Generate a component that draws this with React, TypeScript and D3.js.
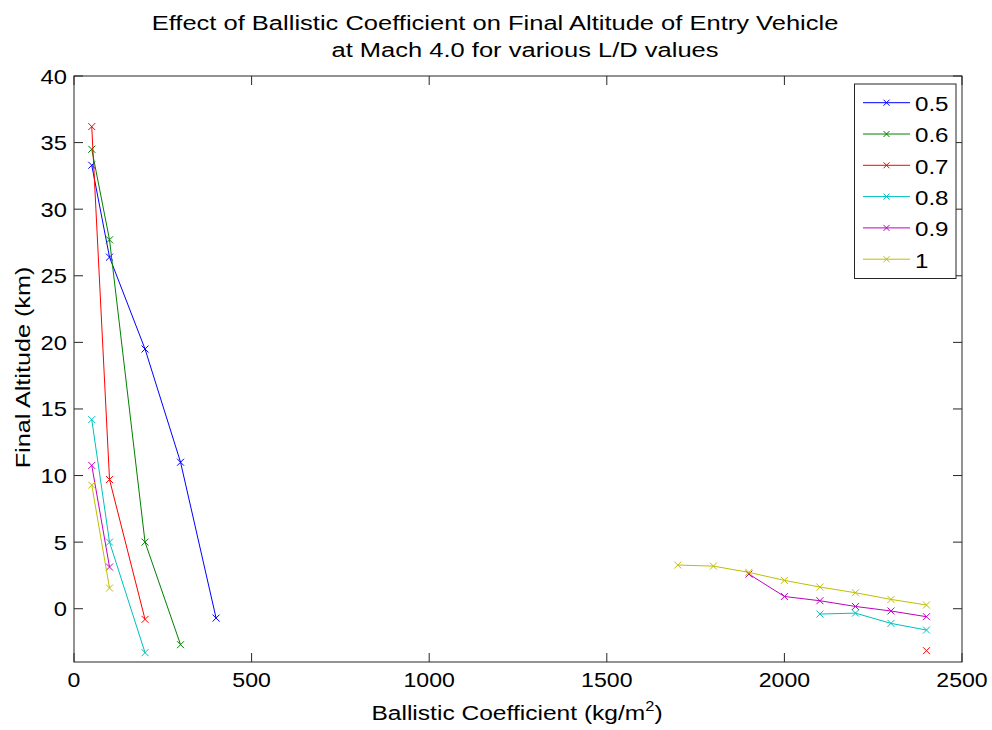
import React from "react";
import * as d3 from "d3";

const seriesNames = ["0.5", "0.6", "0.7", "0.8", "0.9", "1"];
const seriesColors = ["#0000ff", "#008000", "#ff0000", "#00bfbf", "#bf00bf", "#bfbf00"];

// x values (ballistic coefficient) and y values (final altitude, km); null = gap
const xs05 = [50, 100, 200, 300, 400];
const ys05 = [33.3, 26.4, 19.5, 11.0, -0.7];
const xs06 = [50, 100, 200, 300];
const ys06 = [34.5, 27.7, 5.0, -2.7];
const xs07 = [50, 100, 200, 1000, 2400];
const ys07 = [36.2, 9.7, -0.8, null, -3.15];
const xs08 = [50, 100, 200, 1000, 2100, 2200, 2300, 2400];
const ys08 = [14.2, 5.0, -3.3, null, -0.4, -0.33, -1.1, -1.6];
const xs09 = [50, 100, 1000, 1900, 2000, 2100, 2200, 2300, 2400];
const ys09 = [10.76, 3.13, null, 2.6, 0.92, 0.6, 0.17, -0.17, -0.6];
const xs10 = [50, 100, 1000, 1700, 1800, 1900, 2000, 2100, 2200, 2300, 2400];
const ys10 = [9.28, 1.55, null, 3.28, 3.2, 2.73, 2.13, 1.63, 1.2, 0.7, 0.28];

const xTicks = [0, 500, 1000, 1500, 2000, 2500];
const yTicks = [0, 5, 10, 15, 20, 25, 30, 35, 40];

const allX = [xs05, xs06, xs07, xs08, xs09, xs10];
const allY = [ys05, ys06, ys07, ys08, ys09, ys10];

const W = 992;
const H = 730;
const L = 74, R = 962, T = 76, B = 662;
const FONT = "'Liberation Sans', Arial, sans-serif";
const FS = 21;

function Marker({ x, y, color, s = 3.5 }: { x: number; y: number; color: string; s?: number }) {
  return (
    <path
      d={`M${x - s},${y - s}L${x + s},${y + s}M${x - s},${y + s}L${x + s},${y - s}`}
      stroke={color}
      strokeWidth={1}
      fill="none"
    />
  );
}

function Txt({
  x,
  y,
  sx = 1.15,
  rot = 0,
  anchor = "start",
  fs = FS,
  children,
}: {
  x: number;
  y: number;
  sx?: number;
  rot?: number;
  anchor?: string;
  fs?: number;
  children: React.ReactNode;
}) {
  return (
    <g transform={`translate(${x},${y}) rotate(${rot}) scale(${sx},1)`}>
      <text x={0} y={0} textAnchor={anchor as any} fontSize={fs} fill="#000">
        {children}
      </text>
    </g>
  );
}

export default function App() {
  const x = d3.scaleLinear().domain([0, 2500]).range([L, R]);
  const y = d3.scaleLinear().domain([-4, 40]).range([B, T]);

  const line = d3
    .line<[number, number | null]>()
    .defined((d) => d[1] !== null)
    .x((d) => x(d[0]))
    .y((d) => y(d[1] as number));

  const tickLen = 9;
  const axisColor = "#262626";

  return (
    <svg
      width={W}
      height={H}
      style={{ position: "absolute", left: 0, top: 0, background: "#fff" }}
      fontFamily={FONT}
    >
      <rect x={0} y={0} width={W} height={H} fill="#fff" />
      {/* title */}
      <Txt x={495} y={29.5} anchor="middle" sx={1.215}>
        Effect of Ballistic Coefficient on Final Altitude of Entry Vehicle
      </Txt>
      <Txt x={525} y={57} anchor="middle" sx={1.215}>
        at Mach 4.0 for various L/D values
      </Txt>

      {/* data */}
      {allX.map((xsArr, i) => {
        const pts: [number, number | null][] = xsArr.map((v, j) => [v, allY[i][j]]);
        return (
          <g key={i}>
            <path d={line(pts) || ""} stroke={seriesColors[i]} strokeWidth={1} fill="none" />
            {pts
              .filter((p) => p[1] !== null)
              .map((p, j) => (
                <Marker key={j} x={x(p[0])} y={y(p[1] as number)} color={seriesColors[i]} />
              ))}
          </g>
        );
      })}

      {/* axes box */}
      <rect x={L} y={T} width={R - L} height={B - T} fill="none" stroke={axisColor} strokeWidth={1} />
      {xTicks.map((t) => (
        <g key={"x" + t}>
          <line x1={x(t)} x2={x(t)} y1={B} y2={B - tickLen} stroke={axisColor} />
          <line x1={x(t)} x2={x(t)} y1={T} y2={T + tickLen} stroke={axisColor} />
          <Txt x={x(t)} y={686.5} anchor="middle" sx={1.1}>
            {t}
          </Txt>
        </g>
      ))}
      {yTicks.map((t) => (
        <g key={"y" + t}>
          <line x1={L} x2={L + tickLen} y1={y(t)} y2={y(t)} stroke={axisColor} />
          <line x1={R} x2={R - tickLen} y1={y(t)} y2={y(t)} stroke={axisColor} />
          <Txt x={67} y={y(t) + 7.5} anchor="end" sx={1.13}>
            {t}
          </Txt>
        </g>
      ))}

      {/* axis labels */}
      <Txt x={517} y={719.5} anchor="middle" sx={1.17}>
        Ballistic Coefficient (kg/m
        <tspan fontSize={14} dy={-9}>2</tspan>
        <tspan dy={9}>)</tspan>
      </Txt>
      <Txt x={30} y={367.5} rot={-90} anchor="middle" sx={1.2}>
        Final Altitude (km)
      </Txt>

      {/* legend */}
      <rect x={854.5} y={84} width={101.5} height={194.5} fill="#fff" stroke={axisColor} strokeWidth={1} />
      {seriesNames.map((n, i) => {
        const ly = 102.7 + i * 31.3;
        return (
          <g key={n}>
            <line x1={863} x2={910} y1={ly} y2={ly} stroke={seriesColors[i]} strokeWidth={1} />
            <Marker x={886.5} y={ly} color={seriesColors[i]} s={3} />
            <Txt x={915} y={ly + 8.3} sx={1.15}>
              {n}
            </Txt>
          </g>
        );
      })}
    </svg>
  );
}
